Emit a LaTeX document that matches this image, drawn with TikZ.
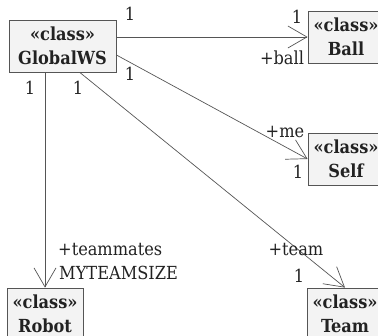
\documentclass[tikz,border=0pt]{standalone}
\usepackage{fontspec}
\setmainfont{DejaVu Serif Condensed}
\usetikzlibrary{arrows.meta,calc}
\definecolor{linegray}{HTML}{555555}
\definecolor{boxfill}{HTML}{F3F3F3}
\definecolor{textdark}{HTML}{222222}
\begin{document}
\begin{tikzpicture}[x=1pt,y=-1pt,
  cls/.style={draw=linegray, fill=boxfill, line width=0.8pt,
    minimum width=76pt, minimum height=52pt, inner sep=0pt, align=center,
    font=\fontsize{18}{24}\selectfont\bfseries, text=textdark},
  assoc/.style={draw=linegray, line width=0.7pt,
    -{Straight Barb[length=19pt,width=22pt,line width=0.7pt]}},
  lbl/.style={font=\fontsize{18}{22}\selectfont, text=textdark, inner sep=0pt}]
\useasboundingbox (0,0) rectangle (378,336);

% classes
\node[cls, minimum width=107pt] (g) at (62.5,46) {«class»\\GlobalWS};
\node[cls] (ball)  at (346,37)  {«class»\\Ball};
\node[cls] (self)  at (346,159) {«class»\\Self};
\node[cls] (robot) at (45,314)  {«class»\\Robot};
\node[cls] (team)  at (345,314) {«class»\\Team};

% associations
\draw[assoc] (g.east |- ball.west) -- (ball.west);
\draw[assoc] ($(g.north east)!0.67!(g.south east)$) -- (self.west);
\draw[assoc] ($(g.south west)!0.66!(g.south east)$) -- (team.north);
\draw[assoc] (robot.north |- g.south) -- (robot.north);

% multiplicities and role names
\node[lbl] (mBallSrc) at (130,14) {1};
\node[lbl] (mBallDst) at (297,17) {1};
\node[lbl] (rBall)    at (282,58) {+ball};
\node[lbl] (mSelfSrc) at (130,74) {1};
\node[lbl] (rSelf)    at (285,132) {+me};
\node[lbl] (mSelfDst) at (298,172) {1};
\node[lbl] (mRobotSrc) at (30,88) {1};
\node[lbl] (mTeamSrc)  at (78,88) {1};
\node[lbl, anchor=west] (rRobot) at (58,250) {+teammates};
\node[lbl, anchor=west] (mRobotDst) at (59,273) {MYTEAMSIZE};
\node[lbl] (rTeam)    at (296,250) {+team};
\node[lbl] (mTeamDst) at (299,276) {1};
\end{tikzpicture}
\end{document}
